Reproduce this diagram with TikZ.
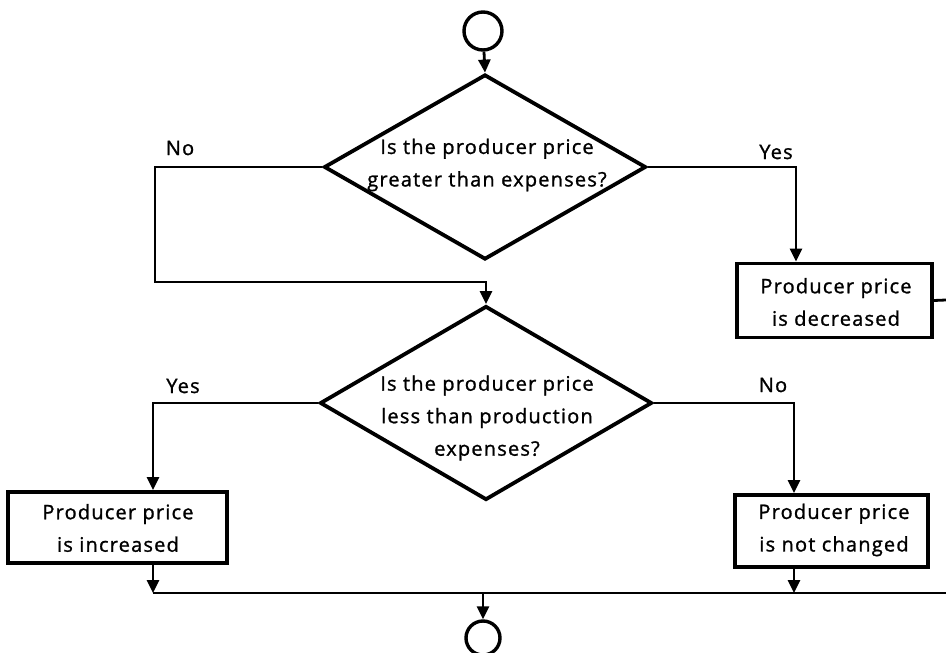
\documentclass[tikz,border=0pt]{standalone}
\usepackage{fontspec}
\setmainfont{Open Sans}[LetterSpace=6,FakeBold=1.2]
\usetikzlibrary{shapes.geometric,arrows.meta}
\begin{document}
\begin{tikzpicture}[x=1pt,y=-1pt,
  every node/.style={font=\fontsize{20}{32.5}\selectfont},
  conn/.style={line width=2.8pt},
  arr/.style={conn,-{Triangle[length=13pt,width=12pt]}},
  decision/.style={diamond,draw,line width=3.8pt,inner sep=0pt,
    minimum width=#1,aspect=1.75},
  action/.style={draw,line width=3.8pt,align=center,inner sep=0pt,
    minimum width=195pt,minimum height=74pt},
  terminal/.style={circle,draw,line width=3.4pt,inner sep=0pt,minimum size=#1},
  txt/.style={inner sep=0pt,align=center},
  lbl/.style={inner sep=0pt}]
\useasboundingbox (0,0) rectangle (946,653);

% start and end terminals
\node[terminal=38pt] (start) at (483,31) {};
\node[terminal=34pt] (stop) at (483,638) {};

% decisions
\node[decision=322pt,minimum height=185pt] (d1) at (485,167) {};
\node[txt] (q1) at (487,165) {Is the producer price\\greater than expenses?};
\node[decision=332pt,minimum height=194pt] (d2) at (486,403) {};
\node[txt] (q2) at (487,418) {Is the producer price\\less than production\\expenses?};

% actions
\node[action] (b1) at (834.5,300.5) {};
\node[txt] (t1) at (836,302) {Producer price\\is decreased};
\node[action,minimum width=219pt,minimum height=71pt] (b2) at (117.5,527.5) {};
\node[txt] (t2) at (118,528) {Producer price\\is increased};
\node[action,minimum width=193pt,minimum height=72pt] (b3) at (831.5,531) {};
\node[txt] (t3) at (834,530) {Producer price\\is not changed};

% branch labels
\node[lbl] (no1) at (180,148) {No};
\node[lbl] (yes1) at (776,152) {Yes};
\node[lbl] (yes2) at (183,386) {Yes};
\node[lbl] (no2) at (773,385) {No};

% routing points
\coordinate (nl) at (155,282);
\coordinate (yx) at (796,167);
\coordinate (lx) at (153,403);
\coordinate (rx) at (794,403);
\coordinate (jl) at (153,593);
\coordinate (jr) at (946,593);
\coordinate (ex) at (946,300);

% connectors
\draw[arr] (start) -- (d1.north);
\draw[arr] (d1.west) -| (nl) -| (d2.north);
\draw[arr] (d1.east) -- (yx) -- (yx |- b1.north);
\draw[conn] (b1.east) -- (ex);
\draw[arr] (d2.west) -- (d2.west -| lx) -- (lx |- b2.north);
\draw[arr] (d2.east) -- (d2.east -| rx) -- (rx |- b3.north);
\draw[arr] (lx |- b2.south) -- (jl);
\draw[arr] (rx |- b3.south) -- (rx |- jl);
\draw[conn] (jl) -- (jr);
\draw[arr] (stop |- jl) -- (stop.north);
\end{tikzpicture}
\end{document}
